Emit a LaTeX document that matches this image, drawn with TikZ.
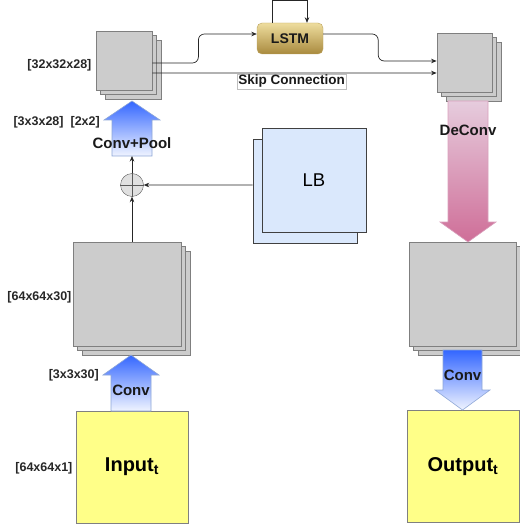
\documentclass[tikz,border=0pt]{standalone}
\usepackage{fontspec}
\setmainfont{Liberation Sans}
\usetikzlibrary{arrows.meta,positioning,shadows}
\definecolor{mapgray}{HTML}{CCCCCC}
\definecolor{mapedge}{HTML}{7F7F7F}
\definecolor{inyellow}{HTML}{FFFF88}
\definecolor{lbblue}{HTML}{DAE8FC}
\definecolor{convblue}{HTML}{3366FF}
\definecolor{convpale}{HTML}{F0F4FF}
\definecolor{convedge}{HTML}{8DA6D6}
\definecolor{deconvtop}{HTML}{E6CCDD}
\definecolor{deconvbot}{HTML}{CF6E98}
\definecolor{deconvedge}{HTML}{D9A0BC}
\definecolor{goldtop}{HTML}{EEDD9E}
\definecolor{goldbot}{HTML}{A98A3E}
\definecolor{goldedge}{HTML}{BBA25E}
\newcommand\pxsize[1]{\fontsize{#1bp}{#1bp}\selectfont}

\begin{document}
\begin{tikzpicture}[x=1bp,y=-1bp,
  fmap/.style={draw=mapedge,fill=mapgray,line width=0.8bp,inner sep=0pt,
    copy shadow={shadow xshift=9bp,shadow yshift=-9bp},
    copy shadow={shadow xshift=4.5bp,shadow yshift=-4.5bp}},
  iobox/.style={draw=black!50,fill=inyellow,line width=0.8bp,inner sep=0pt,
    minimum width=112bp,minimum height=112bp,font=\pxsize{20}\bfseries},
  lbbox/.style={draw=black!75,fill=lbblue,line width=0.8bp,inner sep=0pt,
    minimum size=104bp,font=\pxsize{18.5},
    copy shadow={shadow xshift=-9bp,shadow yshift=-11bp}},
  lstmbox/.style={draw=goldedge,top color=goldtop,bottom color=goldbot,
    rounded corners=5bp,minimum width=66bp,minimum height=31bp,inner sep=0pt,
    font=\pxsize{14}\bfseries,text=black!90},
  sumnode/.style={circle,draw=black!65,fill=black!12,minimum size=23bp,inner sep=0pt},
  dimlbl/.style={font=\pxsize{12.5}\bfseries,text=black!85,inner sep=0pt},
  oplbl/.style={font=\pxsize{15}\bfseries,text=black!90,inner sep=0pt},
  conn/.style={draw=black!85,line width=0.7bp,-{Stealth[length=5.5bp,width=4.5bp]}},
  upconv/.style={draw=convedge,line width=0.6bp,top color=convblue,bottom color=convpale},
  downconv/.style={draw=convedge,line width=0.6bp,top color=convblue,bottom color=convpale},
  deconv/.style={draw=deconvedge,line width=0.6bp,top color=deconvtop,bottom color=deconvbot}]
\useasboundingbox (0,0) rectangle (520,527);

\node[fmap,minimum width=56bp,minimum height=59bp] (enc1) at (124,60.5) {};
\node[fmap,minimum width=108bp,minimum height=104bp] (enc0) at (127,294) {};
\node[fmap,minimum width=55bp,minimum height=59bp] (dec1) at (464.5,62.5) {};
\node[fmap,minimum width=107bp,minimum height=104bp] (dec0) at (462.5,294) {};
\node[iobox] (input) at (132,467) {Input\textsubscript{t}};
\node[iobox] (output) at (463,466.5) {Output\textsubscript{t}};
\node[lbbox] (lb) at (314,180) {LB};
\node[lstmbox] (lstm) at (290,38.5) {LSTM};
\node[sumnode] (plus) at (132,185) {};
\draw[black!65,line width=0.6bp] (plus.north) -- (plus.south) (plus.west) -- (plus.east);

\node[dimlbl,left=4bp of enc1,yshift=-4.5bp] (sz32) {[32x32x28]};
\node[dimlbl,left=1bp of enc0,yshift=-3bp] (sz64) {[64x64x30]};
\node[dimlbl,left=3bp of input,yshift=-1bp] (szin) {[64x64x1]};
\node[dimlbl,anchor=east] (k1) at (99,375) {[3x3x30]};
\node[dimlbl,anchor=east] (k2) at (100,122) {[3x3x28]\hspace{7bp}[2x2]};

% fat arrows
\shade[upconv] (111,411) -- (111,375) -- (103,375) -- (131,355) -- (159,375) -- (151,375) -- (151,411) -- cycle;
\shade[upconv] (112,156) -- (112,120) -- (104,120) -- (132,101) -- (160,120) -- (152,120) -- (152,156) -- cycle;
\shade[deconv] (448,101) -- (448,222) -- (440,222) -- (468,242) -- (496,222) -- (488,222) -- (488,101) -- cycle;
\shade[downconv] (443,350) -- (443,390) -- (435,390) -- (462.5,410) -- (490,390) -- (482,390) -- (482,350) -- cycle;
\coordinate (cpfoot) at (132,156);
\node[oplbl] (conv0) at (131,390) {Conv};
\node[oplbl] (cpool) at (132,143) {Conv+Pool};
\node[oplbl] (dconv) at (468,130) {DeConv};
\node[oplbl] (conv1) at (462.5,375) {Conv};

\draw[conn] (enc0.north -| plus) -- (plus.south);
\draw[conn] (plus.north) -- (cpfoot);
\draw[conn] ([xshift=-9bp,yshift=-5bp]lb.west) -- (plus.east);
\draw[conn,rounded corners=6bp] ([yshift=-2.5bp]enc1.east) -- ++(46,0) |- ([yshift=4.5bp]lstm.west);
\draw[conn,rounded corners=6bp] ([yshift=4.5bp]lstm.east) -- ++(55,0) |- ([yshift=1.5bp]dec1.west);
\draw[conn] ([xshift=-18bp]lstm.north) -- ++(0,-22) -| ([xshift=17bp]lstm.north);
\draw[conn] ([yshift=-12.5bp]enc1.east) -- ([yshift=-10.5bp]dec1.west)
  node[pos=.49,below=1bp,draw=black!25,line width=0.4bp,inner sep=1bp,
    font=\pxsize{13.5}\bfseries,text=black!90] (skip) {Skip Connection};
\end{tikzpicture}
\end{document}
